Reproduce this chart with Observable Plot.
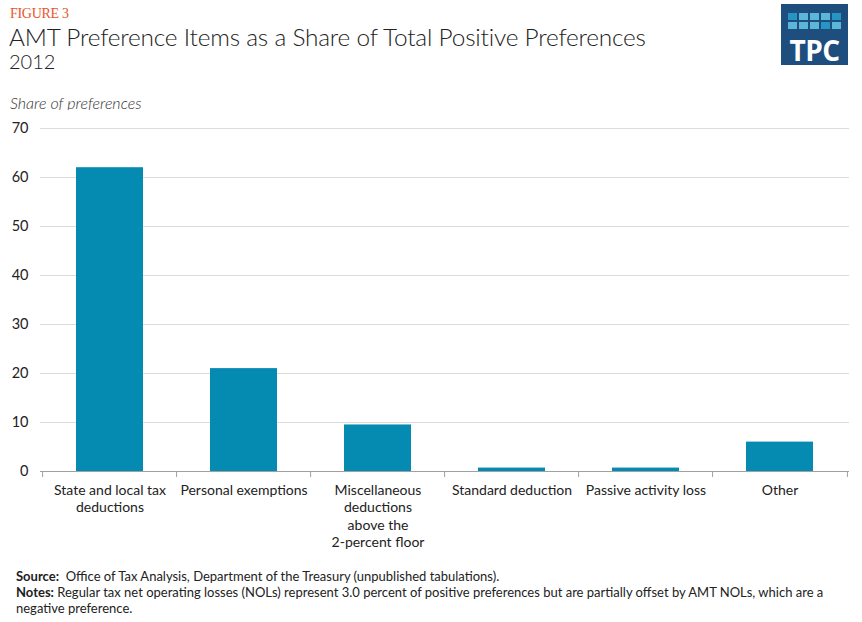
<!DOCTYPE html>
<html>
<head>
<meta charset="utf-8">
<script src="https://cdn.jsdelivr.net/npm/d3@7"></script>
<script src="https://cdn.jsdelivr.net/npm/@observablehq/plot@0.6"></script>
<style>
  html, body { margin: 0; padding: 0; background: #fff; }
  body { width: 862px; height: 622px; position: relative; font-family: Lato, "Open Sans", sans-serif; color: #222; overflow: hidden; }
  .abs { position: absolute; white-space: nowrap; line-height: 1.1; }
  #fig { left: 10px; top: 6px; font-family: "Liberation Serif", serif; font-size: 14px; color: #e8552a; letter-spacing: -0.3px; }
  #title { left: 9px; top: 24px; font-size: 24.4px; font-weight: 300; color: #222; letter-spacing: -0.2px; }
  #sub { left: 9px; top: 50px; font-size: 20px; font-weight: 300; color: #222; }
  #ylab { left: 10px; top: 94px; font-size: 16px; font-style: italic; font-weight: 300; color: #333; }
  #chart { left: 0; top: 110px; }
  .note { left: 16px; font-size: 13px; line-height: 1.2; color: #222; }
  .note b { font-weight: 700; }
  #logo { left: 781px; top: 4px; width: 67px; height: 61px; background: #1d4e7e; }
  #logo .sq { position: absolute; width: 9px; height: 7px; }
  #logo .tpc { position: absolute; left: 0; width: 67px; top: 30px; text-align: center; color: #fff; font-family: "Open Sans", Roboto, sans-serif; font-weight: 700; font-size: 28px; line-height: 1.2; letter-spacing: -0.5px; }
</style>
</head>
<body>
<div class="abs" id="fig">FIGURE 3</div>
<div class="abs" id="title">AMT Preference Items as a Share of Total Positive Preferences</div>
<div class="abs" id="sub">2012</div>
<div class="abs" id="ylab">Share of preferences</div>
<div class="abs" id="chart"></div>
<div class="abs note" style="top:569px"><b>Source:</b>&nbsp; Office of Tax Analysis, Department of the Treasury (unpublished tabulations).</div>
<div class="abs note" style="top:585px"><b>Notes:</b>&nbsp;Regular tax net operating losses (NOLs) represent 3.0 percent of positive preferences but are partially offset by AMT NOLs, which are a</div>
<div class="abs note" style="top:601px">negative preference.</div>
<div class="abs" id="logo"></div>
<script>
// ---- Data ----
const categories = [
  "State and local tax deductions",
  "Personal exemptions",
  "Miscellaneous deductions above the 2-percent floor",
  "Standard deduction",
  "Passive activity loss",
  "Other"
];
const categoryLabels = [
  "State and local tax\ndeductions",
  "Personal exemptions",
  "Miscellaneous\ndeductions\nabove the\n2-percent floor",
  "Standard deduction",
  "Passive activity loss",
  "Other"
];
const shares = [62.0, 21.0, 9.5, 0.7, 0.7, 6.0];
const yTicks = [0, 10, 20, 30, 40, 50, 60, 70];

// ---- Logo (decoration) ----
const logo = document.getElementById("logo");
const sqColors = [
  ["#2795c4", "#5bb6d8", "#5bb6d8", "#5bb6d8", "#2795c4"],
  ["#5bb6d8", "#5bb6d8", "#5bb6d8", "#2795c4", "#5bb6d8"]
];
sqColors.forEach((row, r) => row.forEach((c, i) => {
  const d = document.createElement("div");
  d.className = "sq";
  d.style.left = (7 + i * 11) + "px";
  d.style.top = (9 + r * 9) + "px";
  d.style.background = c;
  logo.appendChild(d);
}));
const t = document.createElement("div");
t.className = "tpc"; t.textContent = "TPC"; logo.appendChild(t);

// ---- Chart ----
const data = categories.map((c, i) => ({category: c, value: shares[i]}));
const labelOf = new Map(categories.map((c, i) => [c, categoryLabels[i]]));

const W = 862, H = 450, mL = 40, mR = 13, mT = 18, mB = 89;
const step = (W - mL - mR) / categories.length;

const chart = Plot.plot({
  width: W,
  height: H,
  marginLeft: mL,
  marginRight: mR,
  marginTop: mT,
  marginBottom: mB,
  style: {fontFamily: "Lato, 'Open Sans', sans-serif", fontSize: "14px", color: "#222", background: "#fff"},
  x: {domain: categories, paddingInner: 0.5, paddingOuter: 0.25, label: null},
  y: {domain: [0, 70], ticks: yTicks, label: null},
  marks: [
    Plot.gridY(yTicks.filter(d => d > 0), {stroke: "#dcdcdc", strokeOpacity: 1, strokeWidth: 1}),
    Plot.barY(data, {x: "category", y: "value", fill: "#058bb2"}),
    Plot.ruleY([0], {stroke: "#a0a0a0", strokeWidth: 1}),
    Plot.ruleX(categories, {x: d => d, y1: 0, y2: 0, insetBottom: -6, dx: -step / 2, stroke: "#a0a0a0"}),
    Plot.ruleX(categories.slice(-1), {x: d => d, y1: 0, y2: 0, insetBottom: -6, dx: step / 2, stroke: "#a0a0a0"}),
    Plot.axisY(yTicks, {tickSize: 0, tickPadding: 12, fontSize: 14.5, fill: "#222"}),
    Plot.axisX({tickSize: 0, tickPadding: 11, lineHeight: 1.25, fontSize: 14, fill: "#222", tickFormat: d => labelOf.get(d)})
  ]
});
document.getElementById("chart").appendChild(chart);
</script>
</body>
</html>
